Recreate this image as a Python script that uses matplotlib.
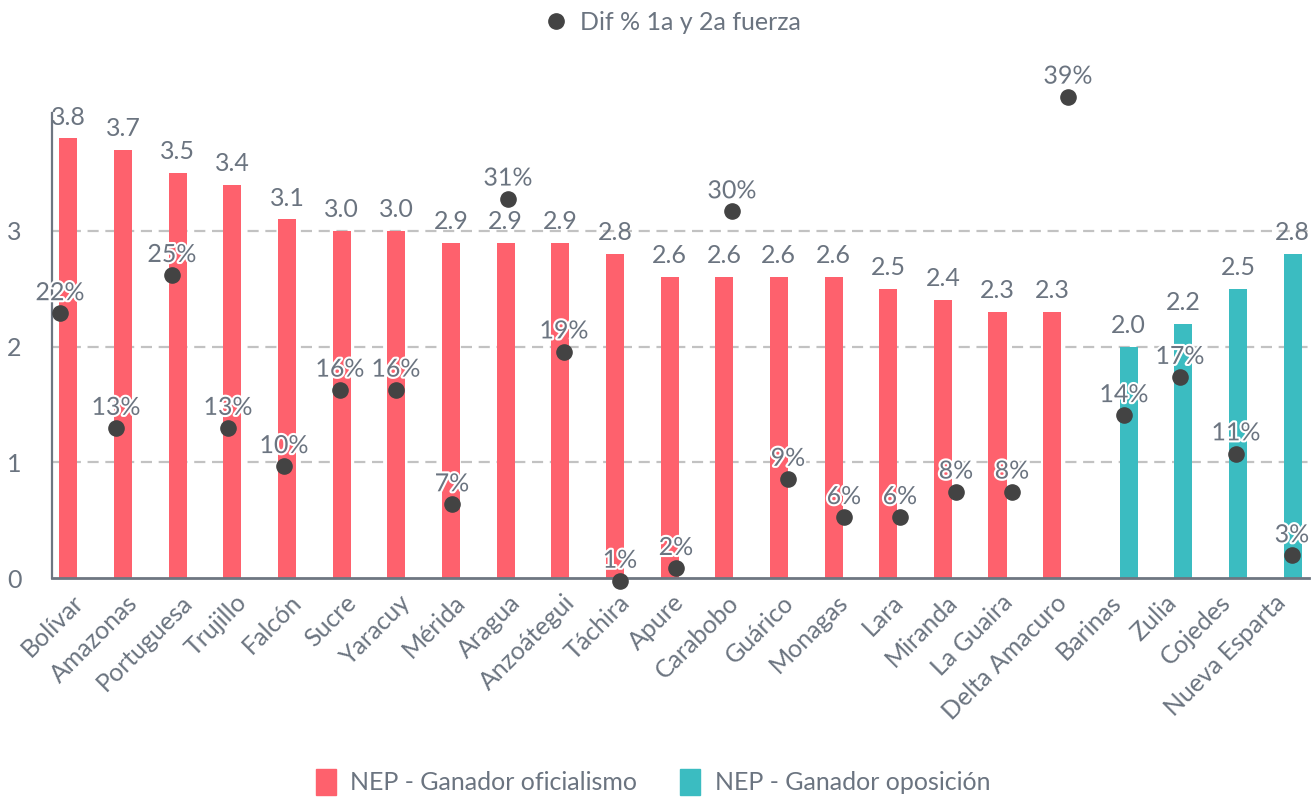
import matplotlib
matplotlib.use("Agg")
import matplotlib.pyplot as plt
import matplotlib.patheffects as pe
from matplotlib.patches import Patch
from matplotlib.lines import Line2D
import numpy as np

plt.rcParams['font.family'] = ['Lato', 'DejaVu Sans']

categories = ['Bolívar', 'Amazonas', 'Portuguesa', 'Trujillo', 'Falcón', 'Sucre',
              'Yaracuy', 'Mérida', 'Aragua', 'Anzoátegui', 'Táchira', 'Apure',
              'Carabobo', 'Guárico', 'Monagas', 'Lara', 'Miranda', 'La Guaira',
              'Delta Amacuro', 'Barinas', 'Zulia', 'Cojedes', 'Nueva Esparta']
nep = [3.8, 3.7, 3.5, 3.4, 3.1, 3.0, 3.0, 2.9, 2.9, 2.9, 2.8, 2.6,
       2.6, 2.6, 2.6, 2.5, 2.4, 2.3, 2.3, 2.0, 2.2, 2.5, 2.8]
ganador = ['of'] * 19 + ['op'] * 4
dif = [22, 13, 25, 13, 10, 16, 16, 7, 31, 19, 1, 2, 30, 9, 6, 6, 8, 8, 39, 14, 17, 11, 3]

series_labels = {'of': 'NEP - Ganador oficialismo', 'op': 'NEP - Ganador oposición'}
dot_label = 'Dif % 1a y 2a fuerza'
yticks = [0, 1, 2, 3]

RED = '#fe616d'
TEAL = '#3bbcc1'
DOT = '#434343'
TXT = '#6b7480'
FS = 18

W, H = 1314, 799
fig = plt.figure(figsize=(W / 100, H / 100), dpi=100)
L, R, B, T = 52, 1309, 578, 113
pos = [L / W, (H - B) / H, (R - L) / W, (B - T) / H]
ax = fig.add_axes(pos)

x = np.arange(len(categories))
off = 0.2
bw = 0.33
for key, color in (('of', RED), ('op', TEAL)):
    idx = [i for i, g in enumerate(ganador) if g == key]
    xs = x[idx] + (-off if key == 'of' else off)
    vals = [nep[i] for i in idx]
    ax.bar(xs, vals, width=bw, color=color, zorder=2)
    for xi, v in zip(xs, vals):
        ax.annotate(f'{v:.1f}', (xi, v), xytext=(0, 10), textcoords='offset points',
                    ha='center', va='baseline', fontsize=FS, color=TXT, zorder=5)

ax.set_xlim(-0.5, len(categories) - 0.5)
ax.set_ylim(0, 4.02)
ax.set_yticks(yticks)
ax.set_yticklabels([str(t) for t in yticks], fontsize=FS, color=TXT)
ax.tick_params(axis='y', length=0, pad=22)
ax.set_xticks(x)
ax.set_xticklabels(categories, rotation=45, ha='right', va='center',
                   rotation_mode='anchor', fontsize=FS, color=TXT)
ax.tick_params(axis='x', length=0, pad=15)
for t in yticks[1:]:
    ax.axhline(t, color='#c2c2c2', lw=1.6, ls=(0, (5, 3)), zorder=1)
for s in ('top', 'right'):
    ax.spines[s].set_visible(False)
ax.spines['left'].set_color('#6e7681')
ax.spines['left'].set_linewidth(1.6)
ax.spines['bottom'].set_color('#6e7681')
ax.spines['bottom'].set_linewidth(2)
ax.spines['bottom'].set_zorder(3)

# secondary axes for the dots
ax2 = fig.add_axes(pos, facecolor='none')
ax2.set_xlim(-0.1429, 22.304)
ax2.set_ylim(1.23, 37.73)
ax2.axis('off')
ax2.scatter(x, dif, s=120, color=DOT, zorder=6, clip_on=False)
for xi, d in zip(x, dif):
    ax2.annotate(f'{d}%', (xi, d), xytext=(0, 9.5), textcoords='offset points',
                 ha='center', va='baseline', fontsize=FS, color=TXT, zorder=7,
                 annotation_clip=False,
                 path_effects=[pe.withStroke(linewidth=3, foreground='white')])

# legends
fig.legend(handles=[Line2D([], [], marker='o', ls='none', color=DOT, markersize=11)],
           labels=[dot_label], loc='center', bbox_to_anchor=(672 / W, 1 - 22 / H),
           frameon=False, fontsize=FS, labelcolor=TXT, handlelength=1.0,
           handletextpad=0.45, borderpad=0)
fig.legend(handles=[Patch(color=RED), Patch(color=TEAL)],
           labels=[series_labels['of'], series_labels['op']], loc='center',
           bbox_to_anchor=(653 / W, 1 - 782 / H), ncol=2, frameon=False,
           fontsize=FS, labelcolor=TXT, handlelength=0.8, handleheight=1.2,
           handletextpad=0.6, columnspacing=1.7, borderpad=0)

fig.savefig('out.png', dpi=100)
